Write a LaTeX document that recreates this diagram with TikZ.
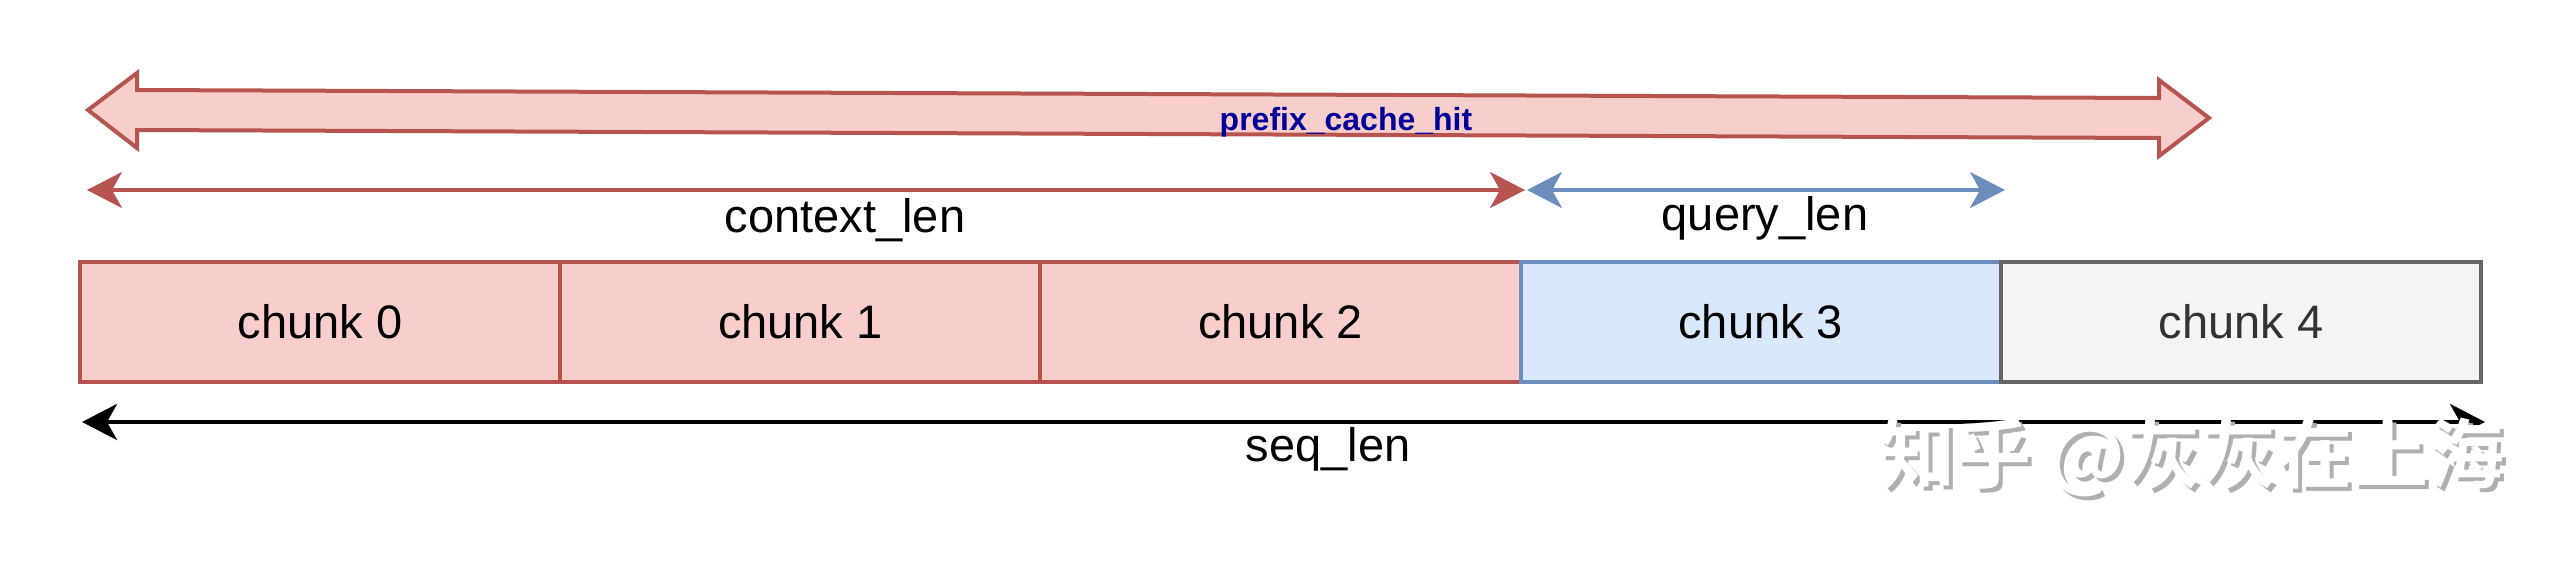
\documentclass[tikz,border=0pt]{standalone}
\usepackage{fontspec}
\setmainfont{Liberation Sans}
\newfontfamily\cjkfont{Noto Sans CJK SC}[BoldFont={Noto Sans CJK SC Bold}]
\usetikzlibrary{arrows.meta}
\definecolor{redS}{HTML}{B85450}
\definecolor{redF}{HTML}{F8CECC}
\definecolor{blueS}{HTML}{6C8EBF}
\definecolor{blueF}{HTML}{DAE8FC}
\definecolor{grayS}{HTML}{666666}
\definecolor{grayF}{HTML}{F5F5F5}
\definecolor{grayT}{HTML}{333333}
\definecolor{navyT}{HTML}{000099}
\definecolor{wmark}{HTML}{B0B0B0}
\tikzset{
  chunkbox/.style={draw, line width=4pt, minimum width=480.2pt, minimum height=120pt, inner sep=0pt,
    font=\fontsize{47}{56}\selectfont},
  chunkred/.style={chunkbox, draw=redS, fill=redF, text=black},
  chunkblue/.style={chunkbox, draw=blueS, fill=blueF, text=black},
  chunkgray/.style={chunkbox, draw=grayS, fill=grayF, text=grayT},
  lbl/.style={font=\fontsize{47}{56}\selectfont, anchor=base, inner sep=0pt},
  dimred/.style={line width=3.5pt, draw=redS, {Stealth[length=35pt, width=36pt, inset=10pt]}-{Stealth[length=35pt, width=36pt, inset=10pt]}},
  dimblue/.style={line width=3.5pt, draw=blueS, {Stealth[length=35pt, width=36pt, inset=10pt]}-{Stealth[length=35pt, width=36pt, inset=10pt]}},
  dimblack/.style={line width=4.5pt, draw=black, {Stealth[length=35pt, width=36pt, inset=10pt]}-{Stealth[length=35pt, width=36pt, inset=10pt]}},
  flexarrow/.style={draw=redS, fill=redF, line width=4pt, line join=miter},
  wm/.style={font=\cjkfont\bfseries\fontsize{76}{88}\selectfont, inner sep=0pt}
}
\begin{document}
\begin{tikzpicture}[x=1pt, y=-1pt]
\useasboundingbox[fill=white] (0,0) rectangle (2572,560);

% big flex arrow prefix_cache_hit
\draw[flexarrow] (88,110) -- (137,73) -- (137,90) -- (2159,98) -- (2159,80) -- (2209,118)
  -- (2159,156) -- (2159,138) -- (137,130) -- (137,148) -- cycle;
\node[font=\bfseries\fontsize{32}{38}\selectfont, text=navyT, anchor=base, inner sep=0pt] (pch) at (1346,130) {prefix\_cache\_hit};

% chunks
\node[chunkred] (c0) at (320.1,322) {chunk 0};
\node[chunkred] (c1) at (800.3,322) {chunk 1};
\node[chunkred] (c2) at (1280.5,322) {chunk 2};
\node[chunkblue] (c3) at (1760.7,322) {chunk 3};
\node[chunkgray] (c4) at (2240.9,322) {chunk 4};

% dimension arrows
\coordinate (ctxL) at (87,190);
\coordinate (ctxR) at (1525,190);
\coordinate (qL) at (1527,190);
\coordinate (qR) at (2005,190);
\coordinate (sL) at (82,422);
\coordinate (sR) at (2485,422);
\draw[dimred] (ctxL) -- (ctxR);
\draw[dimblue] (qL) -- (qR);
\draw[dimblack] (sL) -- (sR);

\node[lbl] (ctxlbl) at (845,232) {context\_len};
\node[lbl] (qlbl) at (1765,230) {query\_len};
\node[lbl] (slbl) at (1328,461) {seq\_len};

% watermark
\node[wm, text=wmark] (wm1) at (2196,461) {知乎 @灰灰在上海};
\node[wm, text=white] (wm2) at (2192,457) {知乎 @灰灰在上海};
\end{tikzpicture}
\end{document}
